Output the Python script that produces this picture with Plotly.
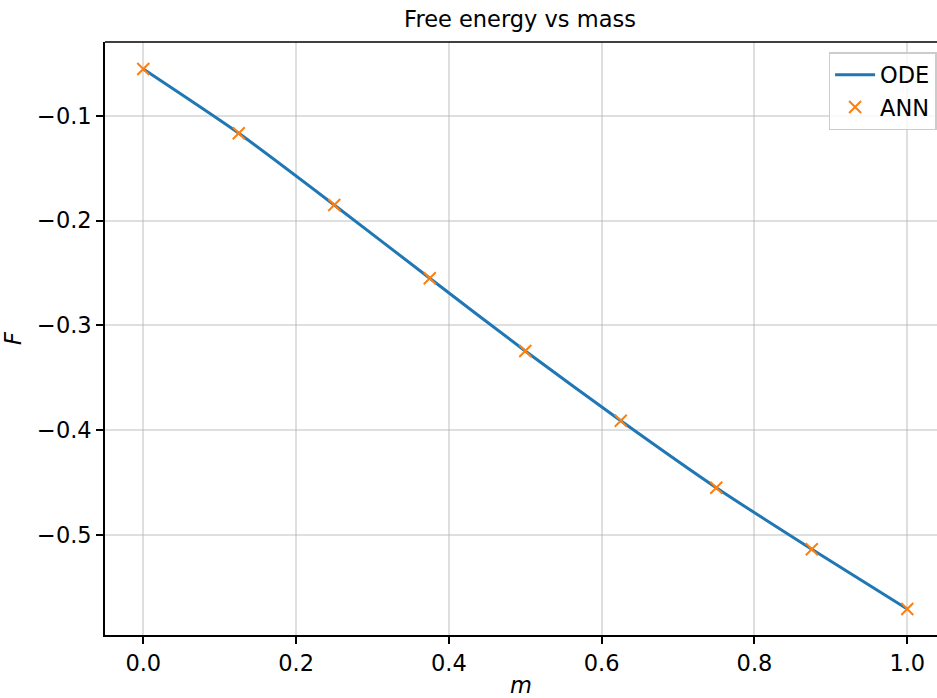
import plotly.graph_objects as go

# Data
ode_m = [0.0, 0.125, 0.25, 0.375, 0.5, 0.625, 0.75, 0.875, 1.0]
ode_F = [-0.0555, -0.1168, -0.1852, -0.2551, -0.3245, -0.3910, -0.4549, -0.5136, -0.5706]
ann_m = [0.0, 0.125, 0.25, 0.375, 0.5, 0.625, 0.75, 0.875, 1.0]
ann_F = [-0.0555, -0.1168, -0.1852, -0.2551, -0.3245, -0.3910, -0.4549, -0.5136, -0.5706]
x_ticks = [0.0, 0.2, 0.4, 0.6, 0.8, 1.0]
y_ticks = [-0.1, -0.2, -0.3, -0.4, -0.5]

FONT = "DejaVu Sans"
FS = 22.5

fig = go.Figure()
fig.add_trace(go.Scatter(
    x=ode_m, y=ode_F, mode="lines", name="ODE",
    line=dict(color="#1f77b4", width=3, shape="spline", smoothing=0.6),
))
fig.add_trace(go.Scatter(
    x=ann_m, y=ann_F, mode="markers", name="ANN",
    marker=dict(symbol="x-thin", size=12, color="#ff7f0e",
                line=dict(color="#ff7f0e", width=2)),
))

axis_common = dict(
    showgrid=True, gridcolor="rgba(176,176,176,0.4)", gridwidth=1.5,
    zeroline=False, showline=True, linecolor="black", linewidth=1.6,
    ticks="outside", ticklen=7, tickwidth=1.6, tickcolor="black",
    tickfont=dict(family=FONT, size=FS, color="black"),
    tickformat=".1f",
)

fig.update_layout(
    width=937, height=698,
    margin=dict(l=105, r=0, t=42, b=63),
    paper_bgcolor="white", plot_bgcolor="white",
    font=dict(family=FONT, size=FS, color="black"),
    title=dict(text="Free energy vs mass", x=0.4988, xref="paper", xanchor="center",
               y=1 - 19 / 698, yref="container", yanchor="middle",
               font=dict(family=FONT, size=FS, color="black")),
    xaxis=dict(range=[-0.0501, 1.0389], tickvals=x_ticks, mirror=False,
               title=dict(text="<i>m</i>", standoff=6,
                          font=dict(family=FONT, size=FS, color="black")),
               **axis_common),
    yaxis=dict(range=[-0.5954, -0.0297], tickvals=y_ticks, mirror=False,
               title=dict(text="<i>F</i>", standoff=12,
                          font=dict(family=FONT, size=FS, color="black")),
               **axis_common),
    legend=dict(x=0.9995, xanchor="right", y=0.983, yanchor="top",
                bgcolor="rgba(255,255,255,0.8)", bordercolor="#cccccc", borderwidth=1.5,
                font=dict(family=FONT, size=FS, color="black"),
                tracegroupgap=0, itemwidth=40),
    showlegend=True,
)
# top spine
fig.add_shape(type="line", xref="paper", yref="paper", x0=0, x1=1, y0=1, y1=1,
              line=dict(color="black", width=1.6))

fig.write_html("out.html")
